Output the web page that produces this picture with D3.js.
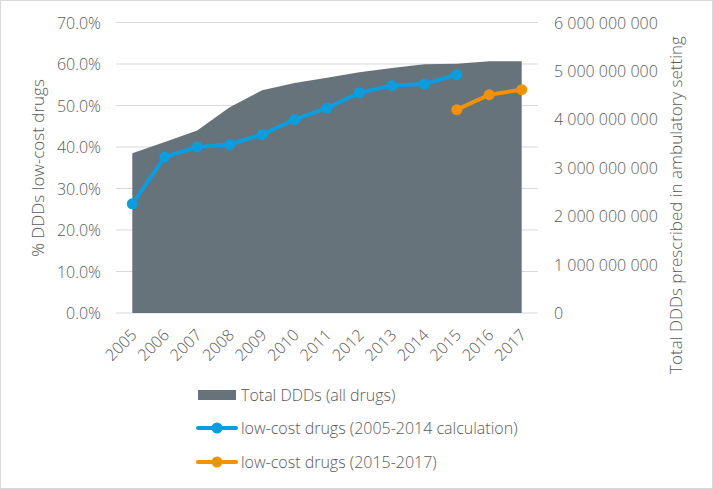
<!DOCTYPE html>
<html>
<head>
<meta charset="utf-8">
<script src="https://cdn.jsdelivr.net/npm/d3@7"></script>
<style>
  body { margin: 0; background: #fff; }
  text { font-family: "Open Sans", sans-serif; fill: #595959; }
</style>
</head>
<body>
<div id="canvas"></div>
<script>
// data
const years = ["2005","2006","2007","2008","2009","2010","2011","2012","2013","2014","2015","2016","2017"];
const totalDDDs = [3.30e9, 3.53e9, 3.77e9, 4.25e9, 4.60e9, 4.75e9, 4.86e9, 4.97e9, 5.06e9, 5.14e9, 5.15e9, 5.20e9, 5.20e9];
const lowCostOld = [0.263, 0.376, 0.400, 0.406, 0.430, 0.466, 0.494, 0.531, 0.548, 0.552, 0.574];
const lowCostOldYears = years.slice(0, 11);
const lowCostNew = [0.490, 0.526, 0.538];
const lowCostNewYears = ["2015","2016","2017"];
const leftTicks = [0, 0.1, 0.2, 0.3, 0.4, 0.5, 0.6, 0.7];
const rightTicks = [0, 1e9, 2e9, 3e9, 4e9, 5e9, 6e9];
const legendLabels = ["Total DDDs (all drugs)", "low-cost drugs (2005-2014 calculation)", "low-cost drugs (2015-2017)"];

const width = 713, height = 489;
const grey = "#67737a", blue = "#0a9de0", orange = "#f39200";

const svg = d3.select("#canvas").append("svg")
  .attr("width", width).attr("height", height);

svg.append("rect")
  .attr("x", 0.5).attr("y", 0.5)
  .attr("width", width - 1).attr("height", height - 1)
  .attr("fill", "#fff").attr("stroke", "#d9d9d9");

const x = d3.scalePoint().domain(years).range([132.3, 521.7]);
const yL = d3.scaleLinear().domain([0, 0.7]).range([313, 22.5]);
const yR = d3.scaleLinear().domain([0, 6e9]).range([313, 22.5]);

// gridlines
svg.append("g").selectAll("line").data(leftTicks).enter().append("line")
  .attr("x1", 116).attr("x2", 538)
  .attr("y1", d => yL(d)).attr("y2", d => yL(d))
  .attr("stroke", "#d9d9d9").attr("stroke-width", 1);

// area
const area = d3.area()
  .x((d, i) => x(years[i]))
  .y0(yR(0))
  .y1(d => yR(d));
svg.append("path").datum(totalDDDs)
  .attr("d", area).attr("fill", grey);

// left axis
const axL = svg.append("g")
  .attr("transform", "translate(101,0)")
  .call(d3.axisLeft(yL).tickValues(leftTicks).tickSize(0).tickPadding(0).tickFormat(d3.format(".1%")));
axL.select(".domain").remove();
axL.selectAll("text").style("font-size", "16px").style("font-weight", 300).attr("dy", "0.35em");

// right axis
const axR = svg.append("g")
  .attr("transform", "translate(554,0)")
  .call(d3.axisRight(yR).tickValues(rightTicks).tickSize(0).tickPadding(0)
    .tickFormat(d => d3.format(",")(d).replace(/,/g, " ")));
axR.select(".domain").remove();
axR.selectAll("text").style("font-size", "16px").style("font-weight", 300).attr("dy", "0.35em");

// x axis
const axX = svg.append("g")
  .attr("transform", "translate(0,313)")
  .call(d3.axisBottom(x).tickSize(0).tickPadding(0));
axX.select(".domain").remove();
axX.selectAll("text")
  .style("font-size", "16px").style("font-weight", 300)
  .attr("text-anchor", "end")
  .attr("dy", "0")
  .attr("transform", "translate(5,23) rotate(-45)");

// lines
const line = d3.line().x(d => x(d[0])).y(d => yL(d[1]));
function drawSeries(ys, vals, color) {
  const pts = ys.map((yr, i) => [yr, vals[i]]);
  svg.append("path").datum(pts)
    .attr("d", line).attr("fill", "none")
    .attr("stroke", color).attr("stroke-width", 4).attr("stroke-linejoin", "round");
  svg.append("g").selectAll("circle").data(pts).enter().append("circle")
    .attr("cx", d => x(d[0])).attr("cy", d => yL(d[1]))
    .attr("r", 5.5).attr("fill", color);
}
drawSeries(lowCostOldYears, lowCostOld, blue);
drawSeries(lowCostNewYears, lowCostNew, orange);

// axis titles
svg.append("text")
  .attr("transform", "translate(44,168) rotate(-90)")
  .attr("text-anchor", "middle")
  .style("font-size", "17px").style("font-weight", 300)
  .text("% DDDs low-cost drugs");
svg.append("text")
  .attr("transform", "translate(682,205) rotate(-90)")
  .attr("text-anchor", "middle")
  .style("font-size", "17px").style("font-weight", 300)
  .text("Total DDDs prescribed in ambulatory setting");

// legend
const lg = svg.append("g");
lg.append("rect").attr("x", 198).attr("y", 390).attr("width", 38).attr("height", 10).attr("fill", grey);
lg.append("text").attr("x", 241).attr("y", 395).attr("dy", "0.35em")
  .style("font-size", "16px").style("font-weight", 300).text(legendLabels[0]);
[[blue, 428, legendLabels[1]], [orange, 462, legendLabels[2]]].forEach(([c, yy, t]) => {
  lg.append("line").attr("x1", 198).attr("x2", 236).attr("y1", yy).attr("y2", yy)
    .attr("stroke", c).attr("stroke-width", 4).attr("stroke-linecap", "round");
  lg.append("circle").attr("cx", 217).attr("cy", yy).attr("r", 5.5).attr("fill", c);
  lg.append("text").attr("x", 241).attr("y", yy).attr("dy", "0.35em")
    .style("font-size", "16px").style("font-weight", 300).text(t);
});
</script>
</body>
</html>
